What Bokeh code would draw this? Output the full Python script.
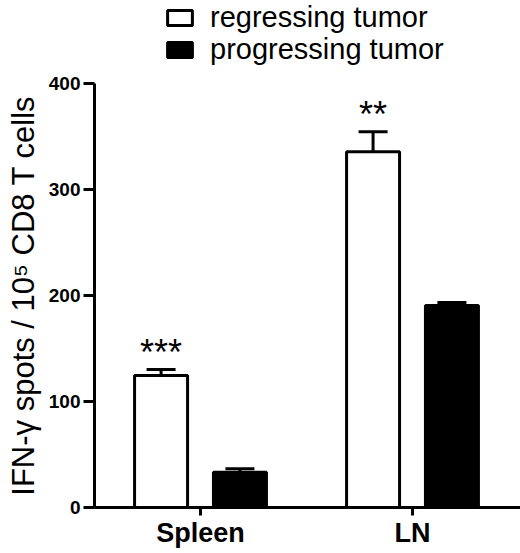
import numpy as np
from bokeh.plotting import figure
from bokeh.layouts import column
from bokeh.models import (ColumnDataSource, Range1d, FixedTicker, Whisker, TeeHead,
                          Legend, LegendItem)
from bokeh.core.properties import value
from bokeh.embed import file_html
from bokeh.resources import INLINE

# ---- data ----
categories = ["Spleen", "LN"]
series_names = ["regressing tumor", "progressing tumor"]
regressing = [124.5, 335.5]
regressing_err = [5.7, 19.0]
progressing = [33.3, 190.5]
progressing_err = [3.2, 3.0]
significance = ["***", "**"]
y_ticks = [0, 100, 200, 300, 400]
y_label = "IFN-\u03b3 spots / 10\u2075 CD8 T cells"

# ---- style ----
FONT = "Liberation Sans"
OFFSET = 0.186
BAR_W = 0.25
W = 520
LEG_H = 70
MAIN_H = 553 - LEG_H

idx = np.arange(len(categories))
reg = np.array(regressing)
prog = np.array(progressing)

src_r = ColumnDataSource(dict(x=idx - OFFSET, top=reg,
                              upper=reg + np.array(regressing_err),
                              star=significance))
src_p = ColumnDataSource(dict(x=idx + OFFSET, top=prog,
                              upper=prog + np.array(progressing_err)))

bar_styles = [dict(fill_color="white", line_color="black", line_width=3),
              dict(fill_color="black", line_color="black", line_width=3)]

# ---------------- main plot ----------------
p = figure(width=W, height=MAIN_H, output_backend="svg", toolbar_location=None,
           x_range=Range1d(-0.5, 1.5094), y_range=Range1d(0, 400),
           min_border_left=94, min_border_top=13, min_border_bottom=46,
           min_border_right=0)
p.outline_line_color = None
p.xgrid.visible = False
p.ygrid.visible = False
p.background_fill_color = "white"
p.border_fill_color = "white"

r1 = p.vbar(x="x", top="top", bottom=0, width=BAR_W, source=src_r, **bar_styles[0])
r2 = p.vbar(x="x", top="top", bottom=0, width=BAR_W, source=src_p, **bar_styles[1])

for src in (src_r, src_p):
    w = Whisker(source=src, base="x", upper="upper", lower="top",
                dimension="height", line_width=3, line_color="black",
                upper_head=TeeHead(size=29, line_width=3, line_color="black"),
                lower_head=None)
    p.add_layout(w)

p.text(x="x", y="upper", text="star", source=src_r,
       text_font=value(FONT), text_font_size="36px", text_align="center",
       text_baseline="alphabetic", y_offset=-17, text_color="black")

yax = p.yaxis[0]
yax.ticker = FixedTicker(ticks=y_ticks)
yax.axis_line_width = 3
yax.axis_line_color = "black"
yax.major_tick_line_width = 3
yax.major_tick_line_color = "black"
yax.major_tick_out = 11
yax.major_tick_in = 0
yax.minor_tick_out = 0
yax.minor_tick_in = 0
yax.major_label_text_font = FONT
yax.major_label_text_font_size = "19px"
yax.major_label_text_font_style = "bold"
yax.major_label_text_color = "black"
yax.major_label_standoff = 3
yax.axis_label = y_label
yax.axis_label_text_font = FONT
yax.axis_label_text_font_size = "31px"
yax.axis_label_text_font_style = "normal"
yax.axis_label_text_color = "black"
yax.axis_label_standoff = 5

xax = p.xaxis[0]
xax.ticker = FixedTicker(ticks=[float(i) for i in idx])
xax.major_label_overrides = {int(i): c for i, c in zip(idx, categories)}
xax.axis_line_width = 3
xax.axis_line_color = "black"
xax.major_tick_line_width = 3
xax.major_tick_line_color = "black"
xax.major_tick_out = 8
xax.major_tick_in = 0
xax.minor_tick_out = 0
xax.minor_tick_in = 0
xax.major_label_text_font = FONT
xax.major_label_text_font_size = "27px"
xax.major_label_text_font_style = "bold"
xax.major_label_text_color = "black"
xax.major_label_standoff = 2

# ---------------- legend strip ----------------
# Swatch renderers reuse the series data but are hidden; only the legend shows.
pl = figure(width=W, height=LEG_H, output_backend="svg", toolbar_location=None,
            x_range=Range1d(0, 1), y_range=Range1d(0, 1),
            x_axis_location=None, y_axis_location=None,
            min_border=0, min_border_left=0, min_border_right=0,
            min_border_top=0, min_border_bottom=0)
pl.outline_line_color = None
pl.grid.visible = False
pl.background_fill_color = "white"
pl.border_fill_color = "white"

legend_locs = [(70, 33), (70, 1)]
for name, style, src, loc in zip(series_names, bar_styles, (src_r, src_p), legend_locs):
    swatch = pl.vbar(x="x", top="top", bottom=0, width=BAR_W,
                     source=ColumnDataSource(dict(src.data)), visible=False, **style)
    leg = Legend(items=[LegendItem(label=name, renderers=[swatch])],
                 location=loc, orientation="vertical",
                 glyph_width=31, glyph_height=19,
                 label_text_font=FONT, label_text_font_size="29px",
                 label_text_color="black",
                 label_standoff=15, label_height=40, spacing=0,
                 padding=0, margin=0, border_line_color=None,
                 background_fill_alpha=0, inactive_fill_alpha=0)
    pl.add_layout(leg)

layout = column(pl, p, spacing=0)
open("out.html", "w").write(file_html(layout, INLINE))
